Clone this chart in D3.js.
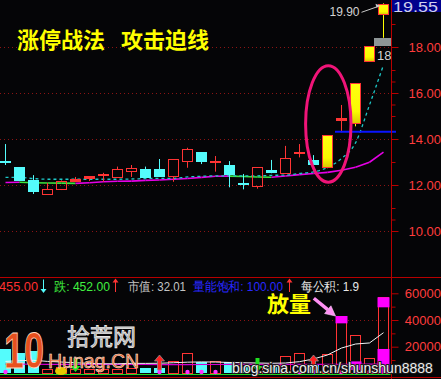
<!DOCTYPE html>
<html>
<head>
<meta charset="utf-8">
<script src="https://cdn.jsdelivr.net/npm/d3@7/dist/d3.min.js"></script>
<style>
  html, body { margin: 0; padding: 0; background: #050507; overflow: hidden; }
  svg { display: block; }
</style>
</head>
<body>
<svg id="chart"></svg>
<script>
// daily candles, oldest first
const opens  = [13.04, 12.78, 12.22, 11.57, 11.78, 12.13, 12.26, 12.39, 12.32, 12.58, 12.70, 12.70, 12.36, 13.01,
                13.43, 12.97, 12.87, 12.09, 11.90, 12.65, 12.48, 13.35, 13.09, 12.73, 14.78, 14.65, 17.35, 19.38];
const closes = [13.03, 12.17, 11.70, 11.83, 12.17, 12.26, 12.39, 12.48, 12.70, 12.74, 12.32, 12.35, 13.13, 13.57,
                13.01, 13.04, 12.43, 11.99, 12.77, 12.51, 13.16, 13.43, 12.88, 14.17, 14.90, 16.43, 18.04, 19.87];
const highs  = [13.78, 12.78, 12.43, 12.09, 12.20, 12.35, 12.39, 12.53, 12.80, 12.87, 12.80, 13.13, 13.13, 13.62,
                13.43, 13.26, 13.04, 12.48, 12.77, 13.09, 13.70, 13.78, 13.30, 14.17, 15.48, 16.43, 18.04, 19.90];
const lows   = [12.87, 12.17, 11.61, 11.57, 11.78, 12.13, 12.17, 12.14, 12.32, 12.35, 12.32, 12.35, 12.14, 12.75,
                12.91, 12.58, 11.90, 11.81, 11.84, 12.51, 12.48, 13.20, 12.88, 12.73, 14.29, 14.55, 17.35, 18.40];
const limitUpDays = [23, 25, 26, 27];

const maSlow = [12.11, 12.12, 12.10, 12.09, 12.08, 12.07, 12.10, 12.14, 12.16, 12.17, 12.20, 12.22, 12.25, 12.28,
                12.33, 12.38, 12.385, 12.37, 12.35, 12.34, 12.39, 12.45, 12.50, 12.55, 12.64, 12.77, 12.99, 13.43];
const maFast = [12.33, 12.325, 12.28, 12.25, 12.25, 12.25, 12.25, 12.25, 12.25, 12.26, 12.28, 12.29, 12.29, 12.35,
                12.38, 12.40, 12.40, 12.40, 12.40, 12.42, 12.43, 12.50, 12.57, 12.76, 13.15, 13.83, 15.48, 17.22];

const volumes = [18300, 15000, 17000, 3300, 4500, 3000, 3500, 3000, 3500, 3800, 3800, 4000, 9000, 15000,
                 8500, 9000, 8500, 5000, 4500, 5000, 13000, 15000, 6000, 14300, 43000, 28800, 11800, 57000];
const volMa5 = [9000, 9500, 9800, 9000, 8500, 8000, 7500, 7200, 7200, 7500, 7500, 7600, 8000, 8400,
                8600, 8500, 8200, 8000, 7800, 7600, 7800, 8800, 10800, 13800, 19000, 22000, 22800, 30500];
const volMa10 = [6900, 6900, 6850, 6800, 6800, 6750, 6700, 6700, 6700, 6650, 6650, 6600, 6600, 6600,
                 6650, 6650, 6700, 6700, 6700, 6700, 6750, 6750, 6800, 6800, 6850, 6850, 6900, 6900];
const blockDays = [24, 27, 27, 25];
const blockHi = [43000, 57000, 18300, 9000];
const blockLo = [37500, 49500, 0, 2500];
const upSignals = [11, 22];
const downSignals = [5, 18];
const dotDays = [0, 11, 13, 14, 15, 18, 19, 21, 22, 24, 25, 26];

const priceTicks = [10, 12, 14, 16, 18];
const priceMinor = [10.5, 11, 13, 15, 15.5, 16.5, 17, 19];
const volTicks = [20000, 40000, 60000];
const volMinor = [10000, 30000, 50000];

const infoLabels = ['455.00', '跌: 452.00', '市值: 32.01', '量能饱和: 100.00', '每公积: 1.9'];

const W = 441, H = 379;
const axisX = 391.5;
const red = '#ff3434', cyan = '#54fcfc', axisRed = '#b80000';

const svg = d3.select('#chart').attr('width', W).attr('height', H)
  .style('font-family', "'Liberation Sans', Arial, sans-serif");

svg.append('rect').attr('width', W).attr('height', H).attr('fill', '#050507');

const x = d3.scaleBand().domain(d3.range(opens.length)).range([-1.5, 390.5]);
const cx = i => x(i) + x.bandwidth() / 2;
const y = d3.scaleLinear().domain([10, 18]).range([231, 47]);
const yv = d3.scaleLinear().domain([0, 60000]).range([373.4, 293.3]);

// dotted grid
svg.append('g').selectAll('line').data(priceTicks).join('line')
  .attr('x1', 0).attr('x2', axisX - 1)
  .attr('y1', d => Math.round(y(d)) + 0.5).attr('y2', d => Math.round(y(d)) + 0.5)
  .attr('stroke', '#8c1414').attr('stroke-dasharray', '1,3');
svg.append('line')
  .attr('x1', 0).attr('x2', axisX - 1)
  .attr('y1', Math.round(yv(40000)) + 0.5).attr('y2', Math.round(yv(40000)) + 0.5)
  .attr('stroke', '#8c1414').attr('stroke-dasharray', '1,3');

// title
const title = svg.append('g').attr('fill', '#ffff00')
  .attr('font-family', "'Noto Sans CJK SC', sans-serif").attr('font-weight', 700).attr('font-size', 22);
title.append('text').attr('x', 17).attr('y', 48).text('涨停战法');
title.append('text').attr('x', 121).attr('y', 48).text('攻击迫线');

// gradient for limit-up candles
const grad = svg.append('defs').append('linearGradient').attr('id', 'limit')
  .attr('x1', 0).attr('x2', 0).attr('y1', 0).attr('y2', 1);
grad.append('stop').attr('offset', '0%').attr('stop-color', '#ffff10');
grad.append('stop').attr('offset', '70%').attr('stop-color', '#fafa00');
grad.append('stop').attr('offset', '100%').attr('stop-color', '#d8c800');

// moving averages
const slowSeg = svg.append('g').attr('fill', 'none').attr('stroke-width', 1.6);
maSlow.slice(1).forEach((v, k) => {
  const a = maSlow[k];
  slowSeg.append('line')
    .attr('x1', cx(k)).attr('y1', y(a)).attr('x2', cx(k + 1)).attr('y2', y(v))
    .attr('stroke', v < a ? '#3ce63c' : '#e600e6');
});
svg.append('path').datum(maFast)
  .attr('d', d3.line().x((d, i) => cx(i)).y(d => y(d)).curve(d3.curveMonotoneX))
  .attr('fill', 'none').attr('stroke', '#1ec8c8').attr('stroke-width', 1.3)
  .attr('stroke-dasharray', '3,3');

// candles
const candles = svg.append('g');
opens.forEach((o, i) => {
  const c = closes[i];
  const top = Math.round(y(Math.max(o, c)));
  const bot = Math.round(y(Math.min(o, c)));
  const xc = Math.round(cx(i) - 0.5) + 0.5;
  const limit = limitUpDays.includes(i);
  const up = c >= o;
  const g = candles.append('g');
  if (limit) {
    g.append('line').attr('x1', xc).attr('x2', xc)
      .attr('y1', y(highs[i])).attr('y2', y(lows[i])).attr('stroke', '#ffff00');
    g.append('rect').attr('x', xc - 5).attr('y', top + 0.5)
      .attr('width', 10).attr('height', Math.max(bot - top - 1, 1))
      .attr('fill', 'url(#limit)').attr('stroke', red);
  } else if (up && bot - top >= 4) {
    g.append('line').attr('x1', xc).attr('x2', xc)
      .attr('y1', y(highs[i])).attr('y2', top).attr('stroke', red);
    g.append('line').attr('x1', xc).attr('x2', xc)
      .attr('y1', bot).attr('y2', y(lows[i])).attr('stroke', red);
    g.append('rect').attr('x', xc - 5).attr('y', top + 0.5)
      .attr('width', 10).attr('height', bot - top - 1)
      .attr('fill', 'none').attr('stroke', red);
  } else {
    const col = up ? red : cyan;
    g.append('line').attr('x1', xc).attr('x2', xc)
      .attr('y1', y(highs[i])).attr('y2', y(lows[i])).attr('stroke', col);
    g.append('rect').attr('x', xc - 5.5).attr('y', top)
      .attr('width', 11).attr('height', Math.max(bot - top, 2)).attr('fill', col);
  }
});

// annotations on the price panel
const last = opens.length - 1;
svg.append('rect')
  .attr('x', Math.round(cx(last - 1)) + 4).attr('y', Math.round(y(lows[last])))
  .attr('width', axisX - Math.round(cx(last - 1)) - 4)
  .attr('height', Math.round(y(closes[last - 1])) - Math.round(y(lows[last])))
  .attr('fill', '#8e9696');
svg.append('text').attr('x', 377).attr('y', y(closes[last - 1]) + 14)
  .attr('fill', '#d4d4d4').attr('font-size', 13).text('18');
svg.append('text').attr('x', cx(last) - 24).attr('y', y(highs[last]) + 12.5)
  .attr('text-anchor', 'end').attr('fill', '#d4d4d4').attr('font-size', 12)
  .text(highs[last].toFixed(2));
svg.append('line').attr('x1', cx(last) - 22).attr('y1', y(highs[last]) + 9)
  .attr('x2', cx(last) - 5).attr('y2', y(highs[last]) + 3)
  .attr('stroke', '#c8c8c8').attr('stroke-width', 1);
svg.append('path')
  .attr('d', `M${cx(last) - 3},${y(highs[last]) + 2.5} l-5,-2 l1,4 z`)
  .attr('fill', '#c8c8c8');

// blue level line
svg.append('line')
  .attr('x1', cx(24) - 6.5).attr('x2', 396)
  .attr('y1', y(lows[24]) - 0.5).attr('y2', y(lows[24]) - 0.5)
  .attr('stroke', '#0a14ff').attr('stroke-width', 2);

// pink ellipse round the breakout
const eTop = y(17.19), eBot = y(12.12);
svg.append('ellipse')
  .attr('cx', cx(23) + 0.8).attr('cy', (eTop + eBot) / 2)
  .attr('rx', 22.7).attr('ry', (eBot - eTop) / 2)
  .attr('fill', 'none').attr('stroke', '#f01478').attr('stroke-width', 3);

// price axis
svg.append('line').attr('x1', axisX).attr('x2', axisX).attr('y1', 0).attr('y2', H)
  .attr('stroke', axisRed);
const pAxis = svg.append('g').attr('transform', `translate(${axisX},0)`)
  .call(d3.axisRight(y).tickValues(priceTicks).tickSize(7).tickSizeOuter(0).tickFormat(d3.format('.2f')));
const vAxis = svg.append('g').attr('transform', `translate(${axisX},0)`)
  .call(d3.axisRight(yv).tickValues(volTicks).tickSize(7).tickSizeOuter(0).tickFormat(d3.format('d')));
svg.append('g').attr('transform', `translate(${axisX},0)`)
  .call(d3.axisRight(y).tickValues(priceMinor).tickSize(4).tickSizeOuter(0).tickFormat(''));
svg.append('g').attr('transform', `translate(${axisX},0)`)
  .call(d3.axisRight(yv).tickValues(volMinor).tickSize(4).tickSizeOuter(0).tickFormat(''));
svg.selectAll('.domain').remove();
svg.selectAll('.tick line').attr('stroke', axisRed);
[pAxis, vAxis].forEach(a => a.selectAll('.tick text')
  .attr('x', 49.5).attr('text-anchor', 'end')
  .attr('fill', '#ff3c3c').attr('font-size', 13).attr('font-family', "'Liberation Sans', Arial, sans-serif"));

// latest price box
svg.append('rect').attr('x', axisX + 0.5).attr('y', 0).attr('width', W - axisX).attr('height', 12)
  .attr('fill', '#00008c');
svg.append('text').attr('x', 393).attr('y', 11.5).attr('fill', '#d0d0ee')
  .attr('font-size', 14.5).attr('textLength', 45).attr('lengthAdjust', 'spacingAndGlyphs')
  .text('19.55');

// info row
svg.append('line').attr('x1', 0).attr('x2', W).attr('y1', 277.5).attr('y2', 277.5).attr('stroke', axisRed);
const info = svg.append('g').attr('font-size', 13);
const infoY = 290.5;
const infoX = [-1, 54, 128, 193, 301];
const infoW = [39, 56, 58, 90, 58];
const infoCol = ['#ff3030', '#40f040', '#c4c4c4', '#2828ff', '#e8e8e8'];
infoLabels.forEach((t, k) => {
  info.append('text').attr('x', infoX[k]).attr('y', infoY).attr('fill', infoCol[k])
    .attr('textLength', infoW[k]).attr('lengthAdjust', 'spacingAndGlyphs').text(t);
});
const arrow = (xa, dir, col) => {
  const yTop = 279.5, yBot = 292;
  info.append('line').attr('x1', xa).attr('x2', xa).attr('y1', yTop).attr('y2', yBot)
    .attr('stroke', col);
  const tip = dir > 0 ? yTop - 1 : yBot + 1;
  info.append('path')
    .attr('d', `M${xa - 3},${tip + dir * 4} L${xa},${tip} L${xa + 3},${tip + dir * 4} Z`)
    .attr('fill', col);
};
arrow(43.5, -1, cyan);
arrow(115.5, 1, red);
arrow(289.5, 1, red);

// volume bars
const vol = svg.append('g');
volumes.forEach((v, i) => {
  const xc = Math.round(cx(i) - 0.5) + 0.5;
  const top = Math.round(yv(v));
  const base = Math.round(yv(0));
  const up = closes[i] >= opens[i] || limitUpDays.includes(i);
  if (up) {
    vol.append('rect').attr('x', xc - 5).attr('y', top + 0.5)
      .attr('width', 10).attr('height', base - top)
      .attr('fill', 'none').attr('stroke', red);
  } else {
    vol.append('rect').attr('x', xc - 5.5).attr('y', top)
      .attr('width', 11).attr('height', base - top).attr('fill', cyan);
  }
});
blockDays.forEach((d, k) => {
  vol.append('rect').attr('x', cx(d) - 6).attr('y', yv(blockHi[k]))
    .attr('width', 12).attr('height', yv(blockLo[k]) - yv(blockHi[k]))
    .attr('fill', '#ff00ff');
});

// volume averages
svg.append('path').datum(volMa10)
  .attr('d', d3.line().x((d, i) => cx(i)).y(d => yv(d)))
  .attr('fill', 'none').attr('stroke', '#d200d2').attr('stroke-width', 1.2);
svg.append('path').datum(volMa5)
  .attr('d', d3.line().x((d, i) => cx(i)).y(d => yv(d)))
  .attr('fill', 'none').attr('stroke', '#f4f4f4').attr('stroke-width', 1);

// signals
svg.append('line').attr('x1', 0).attr('x2', axisX - 1).attr('y1', 374.5).attr('y2', 374.5)
  .attr('stroke', '#1ed21e');
svg.append('g').selectAll('circle').data(dotDays).join('circle')
  .attr('cx', d => cx(d)).attr('cy', 372).attr('r', 2.2).attr('fill', '#ff30ff');
upSignals.forEach(d => {
  svg.append('path')
    .attr('d', `M${cx(d)},355 l5,6 h-3 v9 h-4 v-9 h-3 z`)
    .attr('fill', '#ff2020').attr('stroke', '#909090').attr('stroke-width', 0.8);
});
downSignals.forEach(d => {
  svg.append('path')
    .attr('d', `M${cx(d)},372 l-5,-6 h3 v-8 h4 v8 h3 z`)
    .attr('fill', '#20e020');
});
svg.append('line').attr('x1', 0).attr('x2', W).attr('y1', 377.5).attr('y2', 377.5).attr('stroke', axisRed);

// 放量 note with arrow to the big volume bar
svg.append('text').attr('x', 267).attr('y', 312)
  .attr('fill', '#ffff00').attr('font-weight', 700).attr('font-size', 22)
  .attr('font-family', "'Noto Sans CJK SC', sans-serif").text('放量');
const tipX = cx(24) - 6, tipY = yv(blockHi[0]);
const ang = Math.atan2(18, 22);
const ux = Math.cos(ang), uy = Math.sin(ang);
const bx = tipX - ux * 10, by = tipY - uy * 10;
svg.append('line').attr('x1', tipX - ux * 28).attr('y1', tipY - uy * 28)
  .attr('x2', bx).attr('y2', by)
  .attr('stroke', '#ff90f4').attr('stroke-width', 3.5);
svg.append('path')
  .attr('d', `M${tipX},${tipY} L${bx - uy * 5},${by + ux * 5} L${bx + uy * 5},${by - ux * 5} Z`)
  .attr('fill', '#ff90f4').attr('stroke', '#ffd0ff').attr('stroke-width', 0.6);

// watermarks
const wm = svg.append('g');
wm.append('ellipse').attr('cx', 61).attr('cy', 371).attr('rx', 6).attr('ry', 4).attr('fill', '#e6c800');
wm.append('text').attr('x', 67).attr('y', 345)
  .attr('font-family', "'Noto Sans CJK SC', sans-serif").attr('font-size', 23)
  .attr('fill', '#9a9a9a').attr('stroke', '#e8e8e8').attr('stroke-width', 0.8)
  .text('拾荒网');
wm.append('text').attr('x', 48).attr('y', 368).attr('font-size', 19.5)
  .attr('fill', '#e8602a').attr('stroke', '#fff0e0').attr('stroke-width', 0.5)
  .text('Hunag.CN');
wm.append('text').attr('x', 4).attr('y', 368).attr('font-size', 50).attr('font-weight', 700)
  .attr('textLength', 40).attr('lengthAdjust', 'spacingAndGlyphs')
  .attr('fill', '#e8501e').attr('stroke', '#ffd8c0').attr('stroke-width', 0.8)
  .text('10');
wm.append('text').attr('x', 232).attr('y', 372.5).attr('font-size', 14)
  .attr('fill', '#ececec').attr('stroke', '#1a1a1a').attr('stroke-width', 2)
  .attr('paint-order', 'stroke')
  .text('blog.sina.com.cn/shunshun8888');
</script>
</body>
</html>
